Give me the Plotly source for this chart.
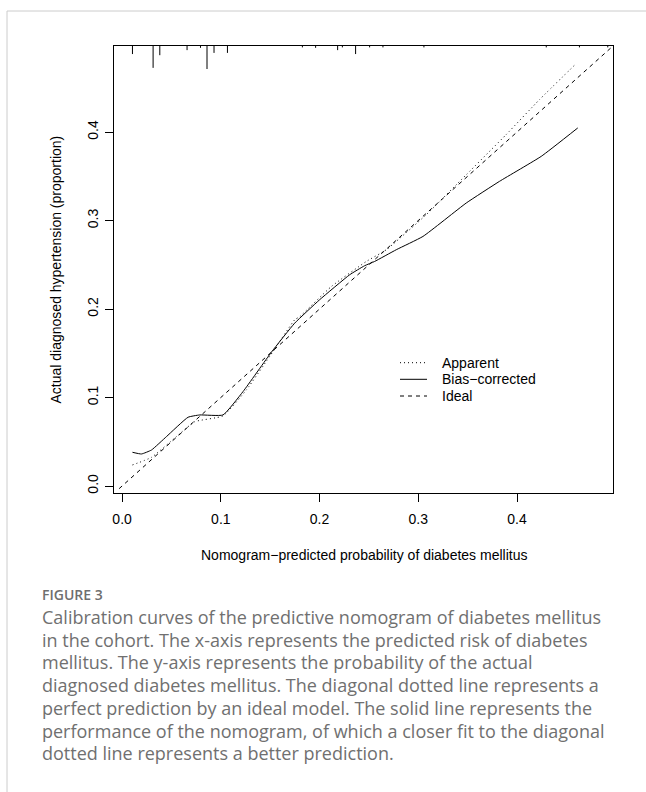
import plotly.graph_objects as go

# ---------------- data ----------------
apparent_x = [0.0105, 0.0298, 0.055, 0.0736, 0.1022, 0.1259, 0.1528, 0.1748, 0.18, 0.212,
              0.2473, 0.2676, 0.3081, 0.3486, 0.389, 0.4228, 0.46]
apparent_y = [0.0238, 0.0324, 0.0558, 0.0727, 0.0792, 0.1086, 0.1519, 0.1878, 0.1915, 0.2255,
              0.2537, 0.2670, 0.3066, 0.3518, 0.3971, 0.4367, 0.4774]

bias_x = [0.0105, 0.0196, 0.0298, 0.0449, 0.0668, 0.0786, 0.1022, 0.1225, 0.1512, 0.1748,
          0.200, 0.2305, 0.2456, 0.2557, 0.2777, 0.3047, 0.3486, 0.3823, 0.4245, 0.4615]
bias_y = [0.0381, 0.0362, 0.0407, 0.0558, 0.0777, 0.0803, 0.0803, 0.1067, 0.1512, 0.184,
          0.2104, 0.2387, 0.2489, 0.2537, 0.2670, 0.2820, 0.3198, 0.3443, 0.3725, 0.4046]

ideal_x = [-0.003, 0.50]
ideal_y = [-0.003, 0.50]

rug_x = [0.0105, 0.0314, 0.0382, 0.0658, 0.0794, 0.0860, 0.0931, 0.1067, 0.1826, 0.196,
         0.2183, 0.2231, 0.2365, 0.2507, 0.2642, 0.3057, 0.4296, 0.4632, 0.4919]
rug_freq = [0.35, 0.95, 0.40, 0.18, 0.08, 1.0, 0.30, 0.30, 0.06, 0.08,
            0.18, 0.06, 0.35, 0.06, 0.06, 0.06, 0.06, 0.06, 0.06]

tick_vals = [0.0, 0.1, 0.2, 0.3, 0.4]
tick_text = ["0.0", "0.1", "0.2", "0.3", "0.4"]

legend_names = ["Apparent", "Bias\u2212corrected", "Ideal"]

x_title = "Nomogram\u2212predicted probability of diabetes mellitus"
y_title = "Actual diagnosed hypertension (proportion)"

caption_head = "FIGURE 3"
caption_lines = [
    "Calibration curves of the predictive nomogram of diabetes mellitus",
    "in the cohort. The x-axis represents the predicted risk of diabetes",
    "mellitus. The y-axis represents the probability of the actual",
    "diagnosed diabetes mellitus. The diagonal dotted line represents a",
    "perfect prediction by an ideal model. The solid line represents the",
    "performance of the nomogram, of which a closer fit to the diagonal",
    "dotted line represents a better prediction.",
]

# ---------------- layout geometry ----------------
W, H = 646, 792
ML, MR, MT, MB = 114, 33, 46, 299
PW, PH = W - ML - MR, H - MT - MB
XR = [-0.0082, 0.4972]
YR = [-0.0079, 0.4972]
RUG_MAX = 0.026

def px(xp):
    return (xp - ML) / PW

def py(yp):
    return 1 - (yp - MT) / PH

FONT = "Liberation Sans, Arial, Helvetica, sans-serif"
CAP_FONT = "Open Sans, Lato, sans-serif"

fig = go.Figure()

# rug (distribution of predictions) at the top
rx, ry = [], []
for xv, f in zip(rug_x, rug_freq):
    rx += [xv, xv, None]
    ry += [YR[1], YR[1] - f * RUG_MAX, None]
fig.add_trace(go.Scatter(x=rx, y=ry, mode="lines", line=dict(color="black", width=1),
                         showlegend=False, hoverinfo="skip"))

fig.add_trace(go.Scatter(x=ideal_x, y=ideal_y, mode="lines", name=legend_names[2],
                         line=dict(color="black", width=1, dash="4px,4px"), showlegend=False))
fig.add_trace(go.Scatter(x=apparent_x, y=apparent_y, mode="lines", name=legend_names[0],
                         line=dict(color="black", width=1, dash="1px,3px", shape="spline", smoothing=0.4),
                         showlegend=False))
fig.add_trace(go.Scatter(x=bias_x, y=bias_y, mode="lines", name=legend_names[1],
                         line=dict(color="black", width=1, shape="spline", smoothing=0.4),
                         showlegend=False))

axis_common = dict(
    showline=True, linecolor="black", linewidth=1, mirror=True,
    ticks="outside", ticklen=8, tickwidth=1, tickcolor="black",
    tickvals=tick_vals, ticktext=tick_text, showgrid=False, zeroline=False,
    tickfont=dict(family=FONT, size=14, color="black"),
)
fig.update_xaxes(range=XR, ticklabelstandoff=5, **axis_common)
fig.update_yaxes(range=YR, tickangle=-90, ticklabelstandoff=1, **axis_common)

shapes = []
annotations = []

# legend (manual, R style)
leg_rows = [362.7, 379.3, 396.0]
leg_dash = ["1px,3px", "solid", "4px,4px"]
for name, yrow, dsh in zip(legend_names, leg_rows, leg_dash):
    shapes.append(dict(type="line", xref="paper", yref="paper",
                       x0=px(400), x1=px(427), y0=py(yrow), y1=py(yrow),
                       line=dict(color="black", width=1, dash=dsh)))
    annotations.append(dict(x=px(440), y=py(yrow), xref="paper", yref="paper",
                            text=name, showarrow=False, xanchor="left", yanchor="middle",
                            font=dict(family=FONT, size=14, color="black")))

# axis titles
annotations.append(dict(x=px(363.5), y=py(555), xref="paper", yref="paper", text=x_title,
                        showarrow=False, xanchor="center", yanchor="middle",
                        font=dict(family=FONT, size=14, color="black")))
annotations.append(dict(x=px(55), y=py(269.5), xref="paper", yref="paper", text=y_title,
                        showarrow=False, xanchor="center", yanchor="middle", textangle=-90,
                        font=dict(family=FONT, size=14, color="black")))

# caption
annotations.append(dict(x=px(40), y=py(594), xref="paper", yref="paper", text=caption_head,
                        showarrow=False, xanchor="left", yanchor="middle",
                        font=dict(family=CAP_FONT, size=14, color="#6e6e6e", weight=600)))
for i, line in enumerate(caption_lines):
    annotations.append(dict(x=px(40), y=py(617 + 22.7 * i), xref="paper", yref="paper", text=line,
                            showarrow=False, xanchor="left", yanchor="middle",
                            font=dict(family=CAP_FONT, size=18, color="#707070")))

# card border (top and left)
shapes.append(dict(type="line", xref="paper", yref="paper", x0=px(7), x1=px(W + 5),
                   y0=py(11), y1=py(11), line=dict(color="#cccccc", width=1)))
shapes.append(dict(type="line", xref="paper", yref="paper", x0=px(7), x1=px(7),
                   y0=py(11), y1=py(H + 5), line=dict(color="#cccccc", width=1)))

fig.update_layout(
    width=W, height=H, margin=dict(l=ML, r=MR, t=MT, b=MB),
    paper_bgcolor="white", plot_bgcolor="white",
    shapes=shapes, annotations=annotations, showlegend=False,
)

fig.write_html("out.html")
